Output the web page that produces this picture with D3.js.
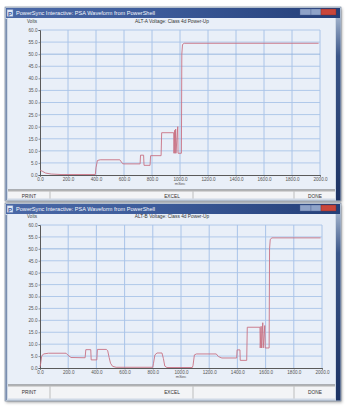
<!DOCTYPE html>
<html>
<head>
<meta charset="utf-8">
<script src="https://cdn.jsdelivr.net/npm/d3@7"></script>
<style>
  body { margin: 0; background: #fff; }
  svg text { font-family: "Liberation Sans", Arial, sans-serif; }
</style>
</head>
<body>
<svg id="chart" width="354" height="408"></svg>
<script>
const windowTitle = "PowerSync Interactive: PSA Waveform from PowerShell";
const chartTitles = ["ALT-A Voltage: Class 4d Power-Up", "ALT-B Voltage: Class 4d Power-Up"];
const buttonLabels = ["PRINT", "EXCEL", "DONE"];

const xTicks = [0, 200, 400, 600, 800, 1000, 1200, 1400, 1600, 1800, 2000];
const yTicks = [0, 5, 10, 15, 20, 25, 30, 35, 40, 45, 50, 55, 60];

// ALT-A: time (mSec) / volts
const altATime  = [0, 15, 40, 80, 150, 395, 400, 410, 430, 570, 590, 600, 715, 718, 740, 743, 786, 790, 865, 869, 955, 957, 962, 964, 969, 971, 984, 986, 1010, 1013, 1018, 1030, 1990];
const altAVolts = [2.0, 1.6, 0.8, 0.4, 0.2, 0.2, 3.0, 6.0, 6.3, 6.3, 4.7, 4.6, 4.6, 8.2, 8.2, 4.0, 4.0, 8.0, 8.0, 17.5, 17.5, 9.0, 18.5, 9.0, 19.0, 9.0, 20.0, 9.0, 9.0, 50.0, 54.0, 54.5, 54.5];

// ALT-B: time (mSec) / volts
const altBTime  = [0, 5, 12, 25, 60, 185, 200, 220, 320, 325, 360, 363, 403, 407, 470, 480, 490, 500, 515, 540, 800, 805, 815, 830, 865, 875, 885, 900, 1080, 1085, 1095, 1110, 1250, 1265, 1290, 1395, 1398, 1418, 1420, 1466, 1470, 1560, 1562, 1568, 1571, 1580, 1583, 1594, 1597, 1625, 1628, 1633, 1645, 1990];
const altBVolts = [0.5, 2.0, 5.0, 5.9, 6.2, 6.2, 5.3, 4.4, 4.3, 7.7, 7.7, 3.4, 3.4, 7.8, 7.8, 7.3, 4.5, 2.0, 0.7, 0.3, 0.3, 2.0, 5.5, 6.3, 6.3, 4.0, 0.8, 0.2, 0.2, 1.0, 5.5, 5.9, 5.9, 4.8, 4.2, 4.2, 7.6, 7.6, 3.2, 3.2, 17.1, 17.1, 8.4, 17.5, 8.4, 19.0, 8.4, 17.8, 8.4, 8.4, 50.0, 54.0, 54.6, 54.6];

const svg = d3.select("#chart");
const defs = svg.append("defs");

const titleGrad = defs.append("linearGradient").attr("id", "titleGrad");
titleGrad.append("stop").attr("offset", "0%").attr("stop-color", "#4a68a6");
titleGrad.append("stop").attr("offset", "45%").attr("stop-color", "#3c5b9a");
titleGrad.append("stop").attr("offset", "100%").attr("stop-color", "#243f78");

const sideGrad = defs.append("linearGradient").attr("id", "sideGrad")
  .attr("x1", "0%").attr("y1", "0%").attr("x2", "0%").attr("y2", "100%");
sideGrad.append("stop").attr("offset", "0%").attr("stop-color", "#b7c6da");
sideGrad.append("stop").attr("offset", "25%").attr("stop-color", "#3a5588");
sideGrad.append("stop").attr("offset", "100%").attr("stop-color", "#1c3263");

defs.append("filter").attr("id", "shadow").attr("x", "-10%").attr("y", "-10%").attr("width", "120%").attr("height", "120%")
  .append("feGaussianBlur").attr("stdDeviation", 1.5);

drawWindow({
  top: 7, bottom: 201, sep: 190, btnY: 197.5,
  plot: { left: 40, right: 320, top: 30, bottom: 175 },
  title: chartTitles[0], time: altATime, volts: altAVolts
});

drawWindow({
  top: 203, bottom: 401, sep: 385, btnY: 394,
  plot: { left: 40, right: 322, top: 225, bottom: 368 },
  title: chartTitles[1], time: altBTime, volts: altBVolts
});

function drawWindow(cfg) {
  const g = svg.append("g");
  const left = 5, right = 341;
  const h = cfg.bottom - cfg.top;

  // frame + shadow
  g.append("rect").attr("x", left + 1).attr("y", cfg.top + 1.5).attr("width", right - left).attr("height", h)
    .attr("fill", "rgba(0,0,0,0.35)").attr("filter", "url(#shadow)");
  g.append("rect").attr("x", left).attr("y", cfg.top).attr("width", right - left).attr("height", h)
    .attr("fill", "#cfd9e6").attr("stroke", "#6d7d95").attr("stroke-width", 0.6);
  g.append("rect").attr("x", right - 5).attr("y", cfg.top + 1).attr("width", 4.5).attr("height", h - 1.5)
    .attr("fill", "url(#sideGrad)");
  g.append("rect").attr("x", left + 0.5).attr("y", cfg.top + 12).attr("width", 1.5).attr("height", h - 13)
    .attr("fill", "#7a8eb0");

  // title bar
  g.append("rect").attr("x", left + 1).attr("y", cfg.top + 1).attr("width", right - left - 2).attr("height", 10)
    .attr("fill", "url(#titleGrad)");
  g.append("rect").attr("x", left + 2).attr("y", cfg.top + 2.5).attr("width", 6).attr("height", 7)
    .attr("fill", "#dfe8f6").attr("stroke", "#6c84b8").attr("stroke-width", 0.5);
  g.append("text").attr("x", left + 5).attr("y", cfg.top + 8.5).attr("text-anchor", "middle")
    .attr("font-size", 6).attr("font-weight", "bold").attr("fill", "#3b5aa0").text("P");
  g.append("text").attr("x", left + 11).attr("y", cfg.top + 8).attr("font-size", 5.6)
    .attr("fill", "#f4f7fc").text(windowTitle);

  // caption buttons
  g.append("rect").attr("x", 300).attr("y", cfg.top + 2).attr("width", 11).attr("height", 6)
    .attr("fill", "#8fa3c8").attr("stroke", "#4f6594").attr("stroke-width", 0.4);
  g.append("rect").attr("x", 311).attr("y", cfg.top + 2).attr("width", 10).attr("height", 6)
    .attr("fill", "#8fa3c8").attr("stroke", "#4f6594").attr("stroke-width", 0.4);
  g.append("rect").attr("x", 321).attr("y", cfg.top + 2).attr("width", 15).attr("height", 6)
    .attr("fill", "#c9463b").attr("stroke", "#7c2a2a").attr("stroke-width", 0.4);

  // client area
  g.append("rect").attr("x", left + 3).attr("y", cfg.top + 11).attr("width", right - left - 9).attr("height", cfg.sep - cfg.top - 11)
    .attr("fill", "#e9eff8");
  g.append("rect").attr("x", left + 3).attr("y", cfg.sep).attr("width", right - left - 9).attr("height", cfg.bottom - cfg.sep - 2.5)
    .attr("fill", "#f3f4f6");
  g.append("line").attr("x1", left + 3).attr("x2", right - 6).attr("y1", cfg.sep).attr("y2", cfg.sep)
    .attr("stroke", "#6e6e6e").attr("stroke-width", 1.2);
  g.append("line").attr("x1", left + 3).attr("x2", right - 6).attr("y1", cfg.sep + 1.2).attr("y2", cfg.sep + 1.2)
    .attr("stroke", "#b9b9b9").attr("stroke-width", 0.8);
  [50, 193, 294].forEach(bx => {
    g.append("line").attr("x1", bx).attr("x2", bx).attr("y1", cfg.sep + 1.5).attr("y2", cfg.bottom - 2.5)
      .attr("stroke", "#9a9a9a").attr("stroke-width", 0.6);
  });
  [29, 172, 315].forEach((bx, i) => {
    g.append("text").attr("x", bx).attr("y", cfg.btnY).attr("text-anchor", "middle")
      .attr("font-size", 4.8).attr("fill", "#333").text(buttonLabels[i]);
  });

  // plot
  const p = cfg.plot;
  const x = d3.scaleLinear().domain([0, 2000]).range([p.left, p.right]);
  const y = d3.scaleLinear().domain([0, 60]).range([p.bottom, p.top]);

  g.append("g").selectAll("line").data(xTicks.slice(1)).join("line")
    .attr("x1", d => x(d)).attr("x2", d => x(d)).attr("y1", p.top).attr("y2", p.bottom)
    .attr("stroke", "#a3c0e6").attr("stroke-width", 0.9);
  g.append("g").selectAll("line").data(yTicks.slice(1)).join("line")
    .attr("x1", p.left).attr("x2", p.right).attr("y1", d => y(d)).attr("y2", d => y(d))
    .attr("stroke", d => d === 50 ? "#8fb0dc" : "#a9c4e8").attr("stroke-width", 0.9);

  const yAxis = g.append("g").attr("transform", `translate(${p.left},0)`)
    .call(d3.axisLeft(y).tickValues(yTicks).tickFormat(d3.format(".1f")).tickSize(1.5).tickPadding(1));
  const xAxis = g.append("g").attr("transform", `translate(0,${p.bottom})`)
    .call(d3.axisBottom(x).tickValues(xTicks).tickFormat(d3.format(".1f")).tickSize(1.5).tickPadding(1));
  [yAxis, xAxis].forEach(a => {
    a.select(".domain").attr("stroke", "#5a5a5a").attr("stroke-width", 1);
    a.selectAll(".tick line").attr("stroke", "#5a5a5a").attr("stroke-width", 0.6);
    a.selectAll("text").attr("font-size", 4.6).attr("fill", "#555").attr("font-family", "Liberation Sans, Arial, sans-serif");
  });

  g.append("text").attr("x", 32).attr("y", p.top - 7.5).attr("text-anchor", "middle")
    .attr("font-size", 4.6).attr("fill", "#444").text("Volts");
  g.append("text").attr("x", 172).attr("y", p.top - 7.5).attr("text-anchor", "middle")
    .attr("font-size", 4.8).attr("fill", "#333").text(cfg.title);
  g.append("text").attr("x", x(1000)).attr("y", p.bottom + 10).attr("text-anchor", "middle")
    .attr("font-size", 4.2).attr("fill", "#555").text("mSec");

  const pts = cfg.time.map((t, i) => [t, cfg.volts[i]]);
  g.append("path").datum(pts)
    .attr("fill", "none").attr("stroke", "#c87283").attr("stroke-width", 0.9)
    .attr("stroke-linejoin", "round")
    .attr("d", d3.line().x(d => x(d[0])).y(d => y(d[1])));
}
</script>
</body>
</html>
